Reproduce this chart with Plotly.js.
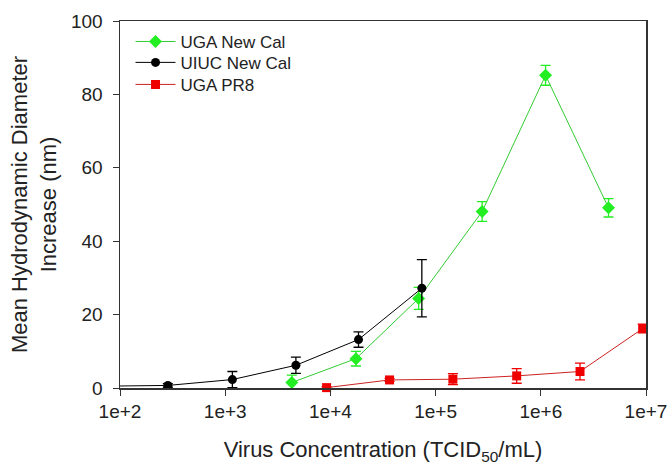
<!DOCTYPE html>
<html><head><meta charset="utf-8">
<script src="https://cdn.plot.ly/plotly-3.0.1.min.js"></script>
<style>html,body{margin:0;padding:0;background:#fff;}#chart{width:668px;height:466px;}</style>
</head><body><div id="chart"></div>
<script>
// UGA New Cal
const ugaNewCalX = [4300, 17500, 69000, 277000, 1110000, 4400000];
const ugaNewCalY = [1.5, 8.0, 24.4, 48.1, 85.2, 49.1];
const ugaNewCalErr = [2.0, 2.0, 3.0, 2.7, 2.7, 2.5];
// UIUC New Cal
const uiucNewCalX = [71, 285, 1170, 4700, 18500, 74000];
const uiucNewCalY = [0.5, 0.7, 2.3, 6.2, 13.2, 27.2];
const uiucNewCalErr = [0.3, 0.5, 2.2, 2.2, 2.1, 7.8];
// UGA PR8
const ugaPR8X = [9200, 36500, 146000, 590000, 2360000, 9300000];
const ugaPR8Y = [0.1, 2.2, 2.4, 3.3, 4.5, 16.2];
const ugaPR8Err = [0.3, 0.4, 1.5, 2.0, 2.3, 1.2];
const xTickVals = [100, 1000, 10000, 100000, 1000000, 10000000];
const xTickText = ["1e+2", "1e+3", "1e+4", "1e+5", "1e+6", "1e+7"];

function tr(name, x, y, e, lineColor, mColor, symbol, size, leg) {
  return {
    type: 'scatter', mode: 'lines+markers', name: name, x: x, y: y, legend: leg,
    line: {color: lineColor, width: 1},
    marker: {color: mColor, symbol: symbol, size: size},
    error_y: {type: 'data', array: e, visible: true, color: mColor, thickness: 1.3, width: 5},
    cliponaxis: false
  };
}
const data = [
  tr('UGA New Cal', ugaNewCalX, ugaNewCalY, ugaNewCalErr, '#33cc33', '#22ee22', 'diamond', 10, 'legend'),
  tr('UIUC New Cal', uiucNewCalX, uiucNewCalY, uiucNewCalErr, '#000000', '#000000', 'circle', 9, 'legend2'),
  tr('UGA PR8', ugaPR8X, ugaPR8Y, ugaPR8Err, '#cc2222', '#ee0000', 'square', 9, 'legend3')
];
data[1].cliponaxis = true;
const fam = 'Liberation Sans, Arial, sans-serif';
function leg(y) {
  return {x: 0.02, y: y, xanchor: 'left', yanchor: 'middle', bgcolor: 'rgba(0,0,0,0)',
          font: {family: fam, size: 17, color: '#222'}, itemwidth: 40};
}
const layout = {
  width: 668, height: 466,
  margin: {l: 120, r: 22, t: 21, b: 78},
  paper_bgcolor: '#fff', plot_bgcolor: '#fff',
  font: {family: fam, color: '#222', size: 18},
  showlegend: true,
  legend: leg(0.943), legend2: leg(0.886), legend3: leg(0.826),
  xaxis: {
    type: 'log', range: [2, 7], tickvals: xTickVals, ticktext: xTickText,
    showgrid: false, zeroline: false, showline: true, linecolor: '#333', linewidth: 1.5,
    mirror: true, ticks: 'outside', ticklen: 6, tickcolor: '#333', tickwidth: 1,
    tickfont: {size: 19, color: '#222'},
    title: {text: 'Virus Concentration (TCID<sub>50</sub>/mL)', font: {size: 22, color: '#222'}, standoff: 20}
  },
  yaxis: {
    range: [0, 100], tickvals: [0, 20, 40, 60, 80, 100],
    showgrid: false, zeroline: false, showline: true, linecolor: '#333', linewidth: 1.5,
    mirror: true, ticks: 'outside', ticklen: 6, tickcolor: '#333', tickwidth: 1,
    tickfont: {size: 19, color: '#222'}, ticklabelstandoff: 6,
    title: {text: 'Mean Hydrodynamic Diameter<br>Increase (nm)', font: {size: 22, color: '#222'}, standoff: 8}
  }
};
Plotly.newPlot('chart', data, layout, {displayModeBar: false, staticPlot: true});
</script></body></html>
